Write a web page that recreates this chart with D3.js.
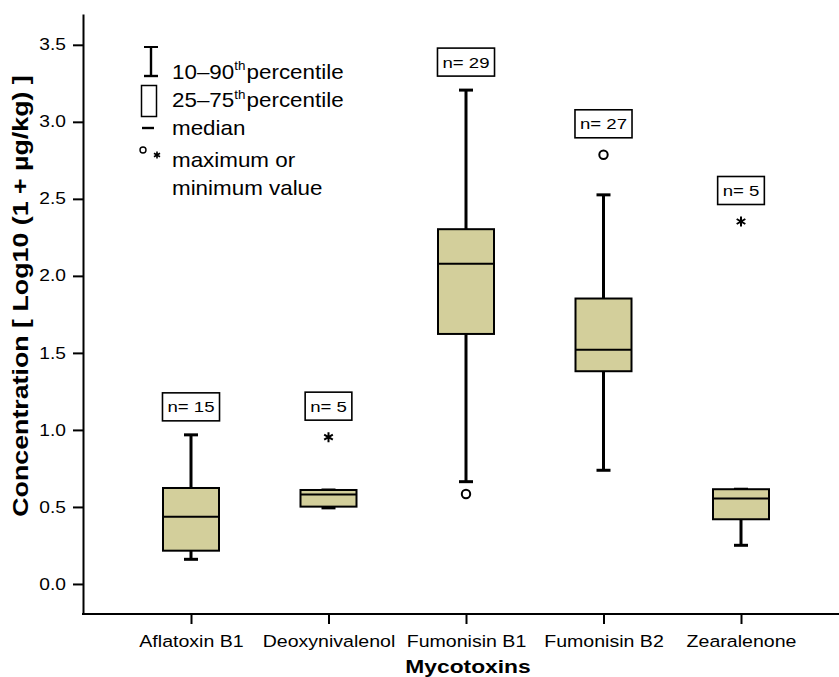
<!DOCTYPE html>
<html>
<head>
<meta charset="utf-8">
<script src="https://cdn.jsdelivr.net/npm/d3@7"></script>
<style>
  html, body { margin: 0; padding: 0; background: #fff; }
  svg { display: block; }
  text { font-family: "Liberation Sans", Arial, Helvetica, sans-serif; fill: #000; }
</style>
</head>
<body>
<script>
// ---------------- data ----------------
const categories = ["Aflatoxin B1", "Deoxynivalenol", "Fumonisin B1", "Fumonisin B2", "Zearalenone"];
const nValues    = [15, 5, 29, 27, 5];
const p10        = [0.160, 0.494, 0.664, 0.738, 0.251];
const q1         = [0.216, 0.502, 1.623, 1.381, 0.420];
const medians    = [0.437, 0.580, 2.078, 1.521, 0.554];
const q3         = [0.623, 0.610, 2.303, 1.853, 0.615];
const p90        = [0.968, 0.610, 3.206, 2.526, 0.615];

const extremeCategory = ["Deoxynivalenol", "Fumonisin B1", "Fumonisin B2", "Zearalenone"];
const extremeValue    = [0.953, 0.584, 2.786, 2.353];
const extremeSymbol   = ["star", "circle", "circle", "star"];

const yTicks = [0, 0.5, 1.0, 1.5, 2.0, 2.5, 3.0, 3.5];
const yTitle = "Concentration [ Log10 (1 + µg/kg) ]";
const xTitle = "Mycotoxins";
const legendItems = [
  { lead: "10–90", sup: "th", rest: "percentile" },
  { lead: "25–75", sup: "th", rest: "percentile" },
  { lead: "median" },
  { lead: "maximum or" },
  { lead: "minimum value" }
];

// ---------------- layout ----------------
const W = 839, H = 677;
const SX = 1.2;             // horizontal text stretch of the original
const fill = "#d3cf9b";

const svg = d3.select("body").append("svg").attr("width", W).attr("height", H);
svg.append("rect").attr("width", W).attr("height", H).attr("fill", "#fff");

const y = d3.scaleLinear().domain([-0.195, 3.70]).range([614, 14]);
const x = d3.scalePoint().domain(categories).range([191, 741]);

const data = categories.map((c, i) => ({
  cat: c, n: nValues[i], p10: p10[i], q1: q1[i], med: medians[i], q3: q3[i], p90: p90[i]
}));
const extremes = extremeCategory.map((c, i) => ({ cat: c, v: extremeValue[i], sym: extremeSymbol[i] }));

// ---------------- axes ----------------
const yAxis = svg.append("g").attr("transform", "translate(83,0)")
  .call(d3.axisLeft(y).tickValues(yTicks).tickFormat(d3.format(".1f")).tickSize(10).tickSizeOuter(0));
yAxis.select(".domain").attr("stroke-width", 2);
yAxis.selectAll(".tick line").attr("stroke-width", 2);
yAxis.selectAll(".tick text")
  .attr("x", null).attr("font-size", 16)
  .attr("font-family", "Liberation Sans, Arial, sans-serif")
  .attr("transform", `translate(-17,0) scale(${SX},1)`);

const xAxis = svg.append("g").attr("transform", "translate(0,614)")
  .call(d3.axisBottom(x).tickSize(10).tickSizeOuter(0));
xAxis.select(".domain").remove();
xAxis.selectAll(".tick line").attr("stroke-width", 2);
xAxis.selectAll(".tick text")
  .attr("y", null).attr("font-size", 16.3)
  .attr("font-family", "Liberation Sans, Arial, sans-serif")
  .attr("transform", `translate(0,21) scale(${SX},1)`);
svg.append("line").attr("x1", 82).attr("x2", W).attr("y1", 614).attr("y2", 614)
  .attr("stroke", "#000").attr("stroke-width", 2);

// titles
svg.append("g").attr("transform", `translate(468,673) scale(${SX},1)`)
  .append("text").attr("text-anchor", "middle").attr("font-size", 19).attr("font-weight", "bold").text(xTitle);
svg.append("g").attr("transform", `translate(28,296) rotate(-90) scale(1.41,${SX})`)
  .append("text").attr("text-anchor", "middle").attr("font-size", 19).attr("font-weight", "bold").text(yTitle);

// ---------------- boxes ----------------
const boxW = 56, capW = 14;
const g = svg.append("g");
const item = g.selectAll("g.box").data(data).join("g").attr("class", "box");

item.append("line")
  .attr("x1", d => x(d.cat)).attr("x2", d => x(d.cat))
  .attr("y1", d => y(d.p90)).attr("y2", d => y(d.p10))
  .attr("stroke", "#000").attr("stroke-width", 3);
item.append("line")
  .attr("x1", d => x(d.cat) - capW / 2).attr("x2", d => x(d.cat) + capW / 2)
  .attr("y1", d => y(d.p90)).attr("y2", d => y(d.p90))
  .attr("stroke", "#000").attr("stroke-width", 3);
item.append("line")
  .attr("x1", d => x(d.cat) - capW / 2).attr("x2", d => x(d.cat) + capW / 2)
  .attr("y1", d => y(d.p10)).attr("y2", d => y(d.p10))
  .attr("stroke", "#000").attr("stroke-width", 3);
item.append("rect")
  .attr("x", d => x(d.cat) - boxW / 2).attr("width", boxW)
  .attr("y", d => y(d.q3)).attr("height", d => y(d.q1) - y(d.q3))
  .attr("fill", fill).attr("stroke", "#000").attr("stroke-width", 2);
item.append("line")
  .attr("x1", d => x(d.cat) - boxW / 2).attr("x2", d => x(d.cat) + boxW / 2)
  .attr("y1", d => y(d.med)).attr("y2", d => y(d.med))
  .attr("stroke", "#000").attr("stroke-width", 2);

// extremes
const starPath = d3.symbol().type(d3.symbolAsterisk).size(70);
extremes.forEach(e => {
  if (e.sym === "circle") {
    g.append("circle").attr("cx", x(e.cat)).attr("cy", y(e.v)).attr("r", 4.2)
      .attr("fill", "#fff").attr("stroke", "#000").attr("stroke-width", 2);
  } else {
    g.append("path").attr("d", starPath()).attr("transform", `translate(${x(e.cat)},${y(e.v)})`)
      .attr("fill", "none").attr("stroke", "#000").attr("stroke-width", 2);
  }
});

// n labels
data.forEach(d => {
  const ex = extremes.filter(e => e.cat === d.cat && e.v > d.p90);
  const topV = d3.max([d.p90, ...ex.map(e => e.v)]);
  const gap = ex.length ? 17 : 14;
  const bottom = y(topV) - gap;
  const label = "n= " + d.n;
  const lg = g.append("g");
  const t = lg.append("g").attr("transform", `translate(${x(d.cat)},${bottom - 8.5}) scale(${SX},1)`)
    .append("text").attr("text-anchor", "middle").attr("font-size", 15.5).text(label);
  const tw = t.node().getComputedTextLength() * SX;
  lg.insert("rect", ":first-child")
    .attr("x", x(d.cat) - tw / 2 - 5).attr("width", tw + 10)
    .attr("y", bottom - 28).attr("height", 28)
    .attr("fill", "#fff").attr("stroke", "#000").attr("stroke-width", 1.6);
});

// ---------------- legend ----------------
const leg = svg.append("g");
// I-beam
leg.append("line").attr("x1", 151).attr("x2", 151).attr("y1", 47).attr("y2", 76).attr("stroke", "#000").attr("stroke-width", 2.4);
leg.append("line").attr("x1", 144).attr("x2", 158).attr("y1", 47).attr("y2", 47).attr("stroke", "#000").attr("stroke-width", 2);
leg.append("line").attr("x1", 144).attr("x2", 158).attr("y1", 76).attr("y2", 76).attr("stroke", "#000").attr("stroke-width", 2.4);
// box
leg.append("rect").attr("x", 141.5).attr("y", 85.5).attr("width", 15).attr("height", 31)
  .attr("fill", "#fff").attr("stroke", "#000").attr("stroke-width", 1.5);
// median
leg.append("line").attr("x1", 142).attr("x2", 154).attr("y1", 128).attr("y2", 128).attr("stroke", "#000").attr("stroke-width", 2.4);
// circle & star
leg.append("circle").attr("cx", 143).attr("cy", 150).attr("r", 3).attr("fill", "#fff").attr("stroke", "#000").attr("stroke-width", 1.4);
leg.append("path").attr("d", d3.symbol().type(d3.symbolAsterisk).size(34)()).attr("transform", "translate(157,155)")
  .attr("fill", "none").attr("stroke", "#000").attr("stroke-width", 1.6);

const legY = [78.5, 107, 135, 166.5, 195];
legendItems.forEach((it, i) => {
  const t = leg.append("g").attr("transform", `translate(172,${legY[i]}) scale(1.12,1)`)
    .append("text").attr("font-size", 20);
  t.append("tspan").text(it.lead);
  if (it.sup) {
    t.append("tspan").attr("font-size", 12).attr("dy", -8.5).text(it.sup);
    t.append("tspan").attr("dy", 8.5).attr("dx", 1).text(it.rest);
  }
});
</script>
</body>
</html>
